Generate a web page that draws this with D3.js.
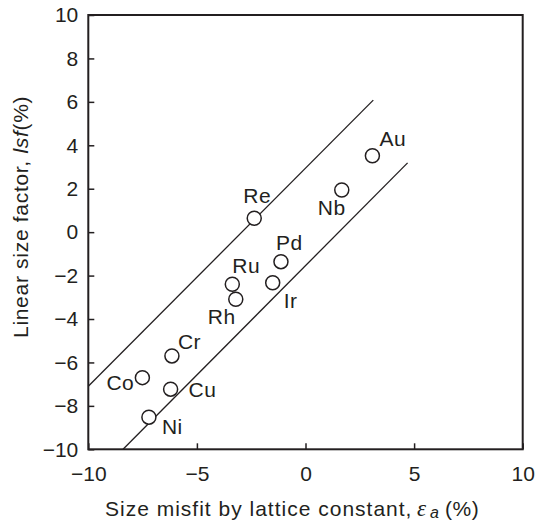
<!DOCTYPE html>
<html>
<head>
<meta charset="utf-8">
<script src="https://cdn.jsdelivr.net/npm/d3@7"></script>
<style>
  body { margin: 0; background: #fff; }
  svg text { font-family: "Liberation Sans", Arial, sans-serif; fill: #231f20; }
</style>
</head>
<body>
<svg id="chart" width="536" height="522"></svg>
<script>
// elements and their misfit values
const elements = ["Re", "Au", "Nb", "Pd", "Ir", "Ru", "Rh", "Cr", "Co", "Cu", "Ni"];
const misfit = [-2.36, 3.08, 1.67, -1.13, -1.51, -3.37, -3.21, -6.15, -7.51, -6.21, -7.21];
const lsf = [0.64, 3.52, 1.94, -1.36, -2.33, -2.40, -3.09, -5.70, -6.70, -7.23, -8.52];

// the two bounding lines
const upperLine = [[-10, -7.1], [3.12, 6.08]];
const lowerLine = [[-8.4, -10], [4.7, 3.19]];

const xTicks = [-10, -5, 0, 5, 10];
const yTicks = [-10, -8, -6, -4, -2, 0, 2, 4, 6, 8, 10];

// label placement (px from the circle centre, text-anchor start, baseline)
const labelOffsets = {
  Re: [-11, -15], Au: [7, -10], Nb: [-24, 25], Pd: [-5, -12], Ir: [11, 25],
  Ru: [0, -11], Rh: [-28, 25], Cr: [6, -7], Co: [-36, 12], Cu: [18, 8], Ni: [13, 17]
};

const ink = "#231f20";
const svg = d3.select("#chart");

const x = d3.scaleLinear().domain([-10, 10]).range([88.3, 522.7]);
const y = d3.scaleLinear().domain([-10, 10]).range([449.3, 15]);

const fmt = d3.format("");

svg.append("g")
  .attr("transform", `translate(0,${y(-10)})`)
  .call(d3.axisBottom(x).tickValues(xTicks).tickSize(-6).tickPadding(17).tickFormat(fmt))
  .call(g => g.select(".domain").remove())
  .call(g => g.selectAll("line").attr("stroke", ink).attr("stroke-width", 1.5))
  .call(g => g.selectAll("text").attr("font-size", 21).attr("fill", ink));

svg.append("g")
  .attr("transform", `translate(${x(-10)},0)`)
  .call(d3.axisLeft(y).tickValues(yTicks).tickSize(-6).tickPadding(10).tickFormat(fmt))
  .call(g => g.select(".domain").remove())
  .call(g => g.selectAll("line").attr("stroke", ink).attr("stroke-width", 1.5))
  .call(g => g.selectAll("text").attr("font-size", 21).attr("fill", ink));

// frame
svg.append("rect")
  .attr("x", x(-10)).attr("y", y(10))
  .attr("width", x(10) - x(-10)).attr("height", y(-10) - y(10))
  .attr("fill", "none").attr("stroke", ink).attr("stroke-width", 2);

const line = d3.line().x(d => x(d[0])).y(d => y(d[1]));
svg.selectAll(".bound")
  .data([upperLine, lowerLine])
  .join("path")
  .attr("class", "bound")
  .attr("d", line)
  .attr("fill", "none").attr("stroke", ink).attr("stroke-width", 1.3);

const pts = elements.map((name, i) => ({ name, x: misfit[i], y: lsf[i] }));

svg.selectAll(".pt")
  .data(pts)
  .join("circle")
  .attr("class", "pt")
  .attr("cx", d => x(d.x)).attr("cy", d => y(d.y)).attr("r", 7)
  .attr("fill", "#fff").attr("stroke", ink).attr("stroke-width", 1.5);

svg.selectAll(".lbl")
  .data(pts)
  .join("text")
  .attr("class", "lbl")
  .attr("x", d => x(d.x) + labelOffsets[d.name][0])
  .attr("y", d => y(d.y) + labelOffsets[d.name][1])
  .attr("font-size", 21)
  .attr("letter-spacing", 0.5)
  .text(d => d.name);

// axis titles
const xt = svg.append("text")
  .attr("x", 105).attr("y", 516)
  .attr("font-size", 21);
xt.append("tspan").attr("letter-spacing", 1).text("Size misfit by lattice constant,");
xt.append("tspan").attr("x", 417).attr("font-style", "italic").attr("font-size", 23)
  .attr("font-family", "Liberation Serif, serif").text("ε");
xt.append("tspan").attr("x", 430).attr("font-style", "italic").attr("font-size", 16).attr("dy", 2).text("a");
xt.append("tspan").attr("x", 445).attr("dy", -2).attr("letter-spacing", 0.5).text("(%)");

const yt = svg.append("text")
  .attr("transform", "translate(28,338) rotate(-90)")
  .attr("font-size", 21)
  .attr("letter-spacing", 0.7);
yt.append("tspan").text("Linear size factor, ");
yt.append("tspan").attr("font-style", "italic").text("lsf");
yt.append("tspan").text("(%)");
</script>
</body>
</html>
